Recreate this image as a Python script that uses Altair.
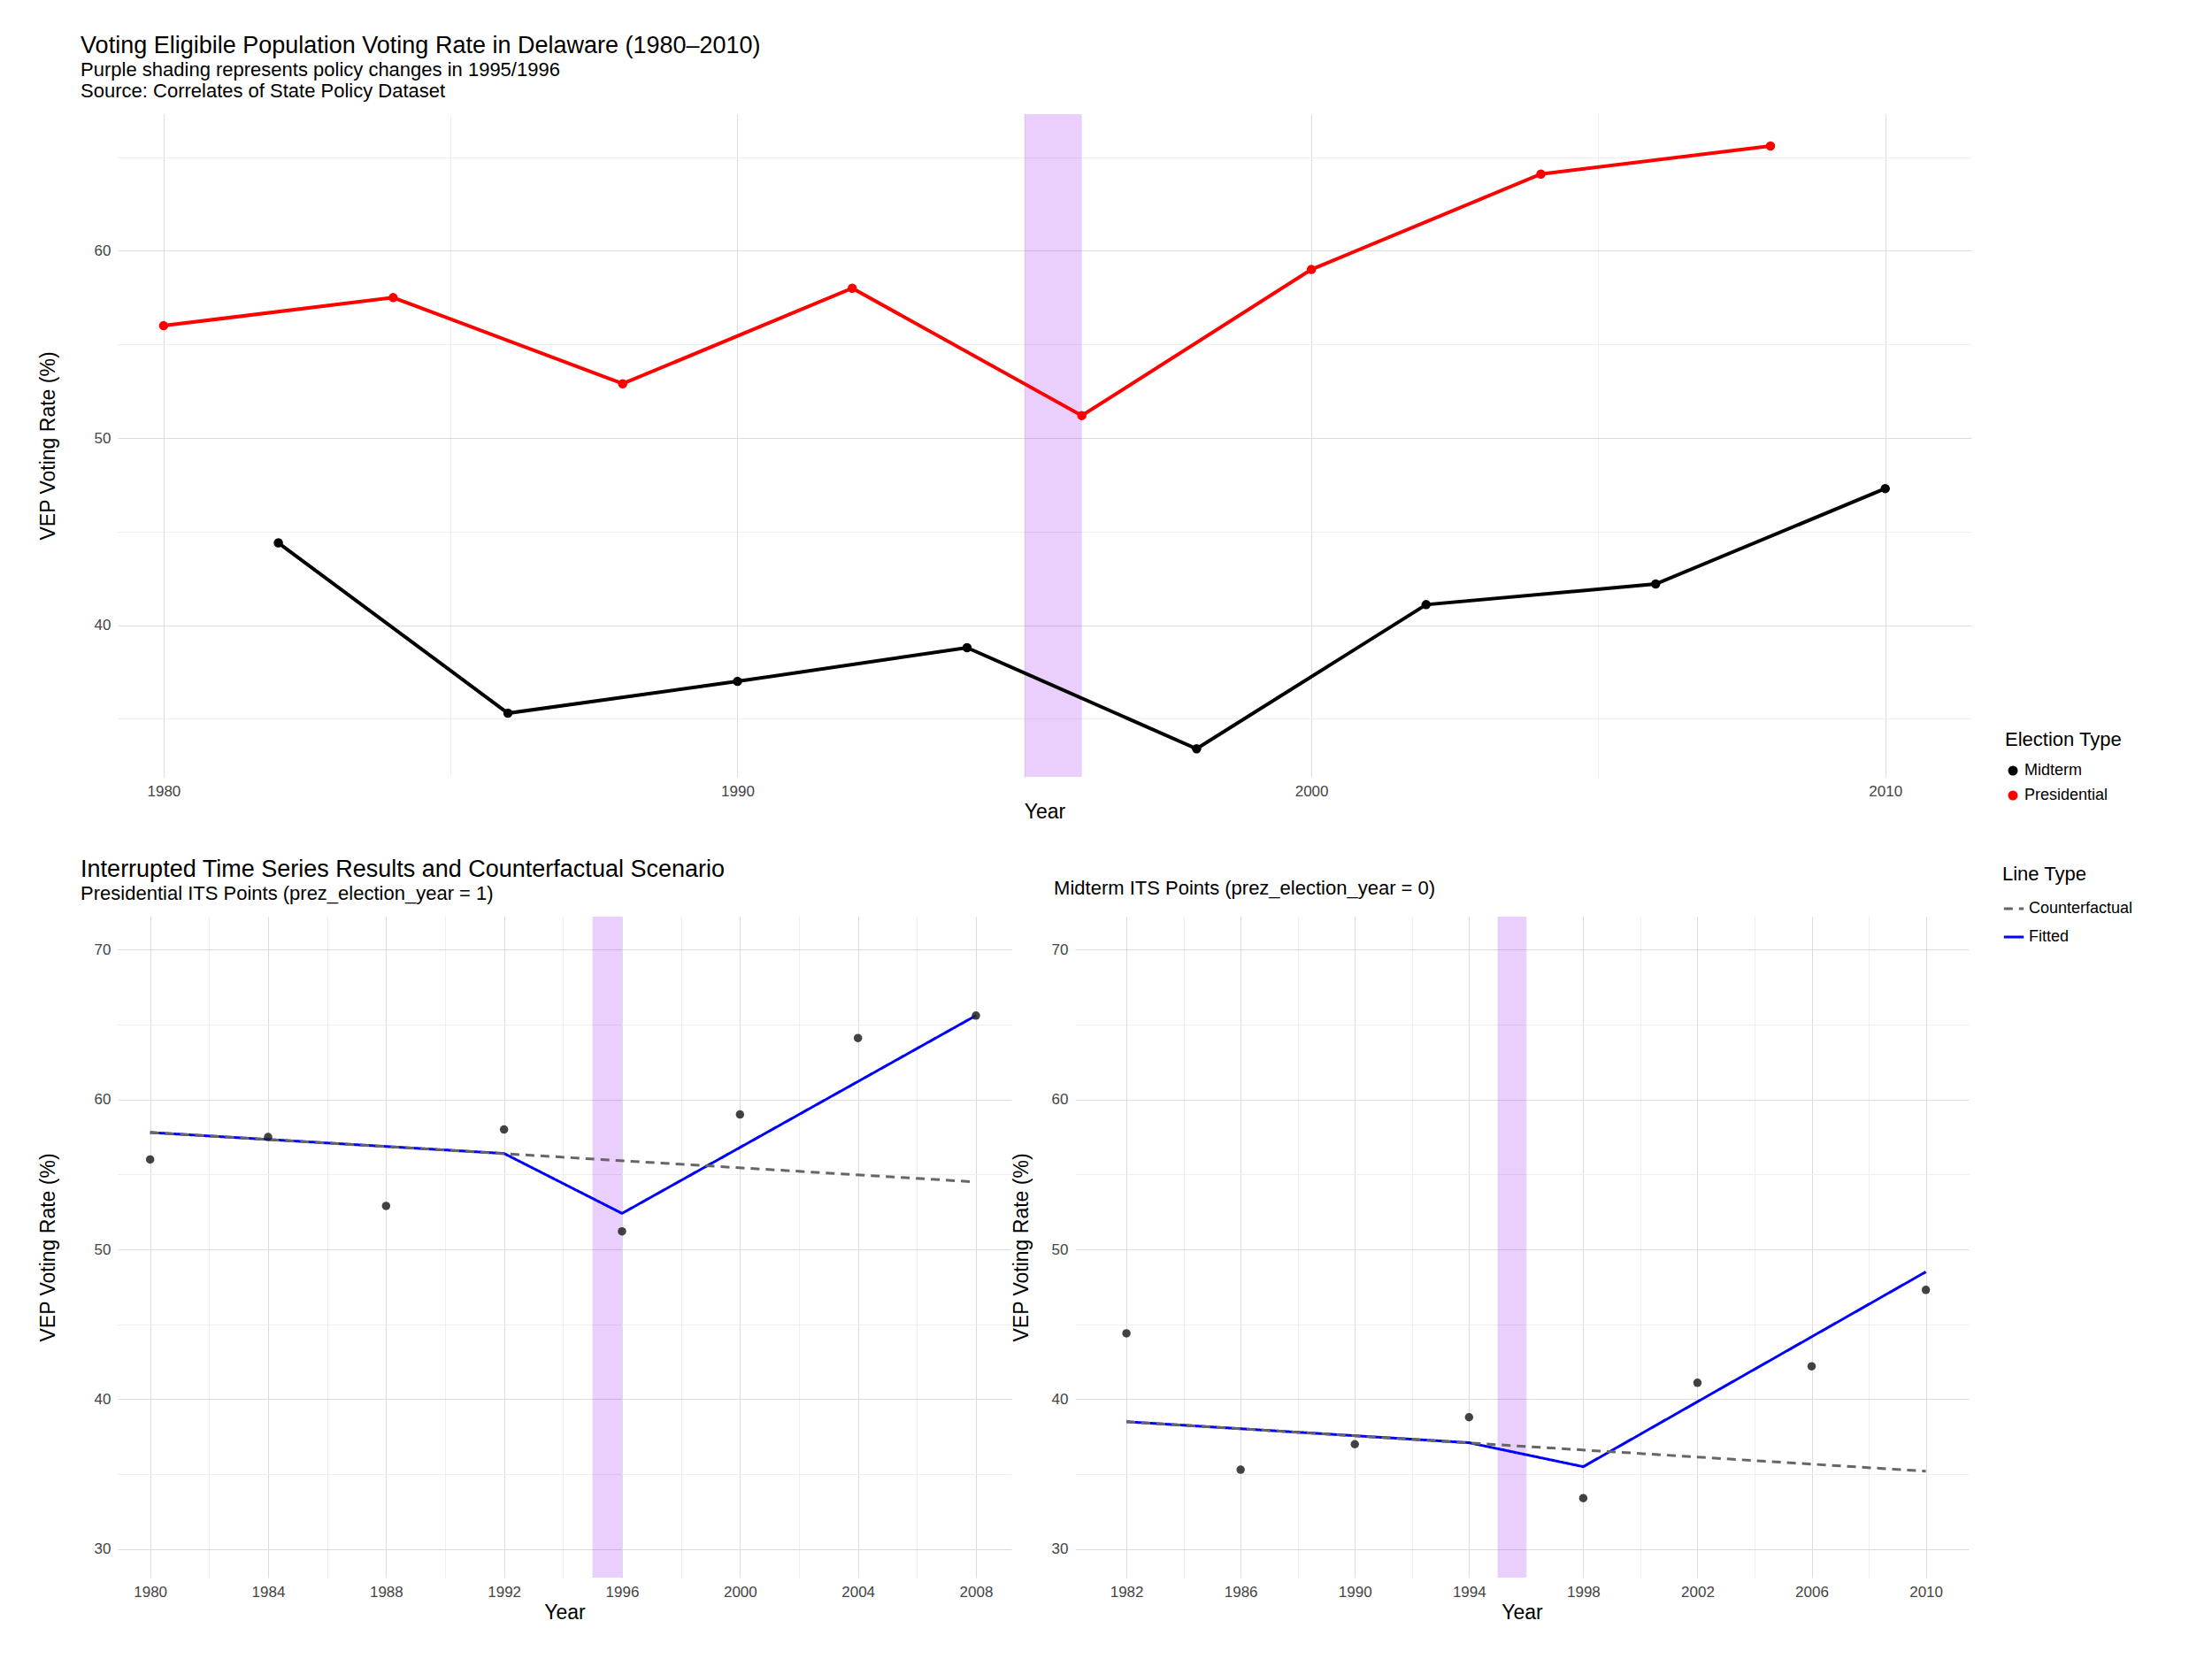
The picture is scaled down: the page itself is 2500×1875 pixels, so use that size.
import altair as alt
import pandas as pd

FONT = "Liberation Sans"

pres_years = [1980, 1984, 1988, 1992, 1996, 2000, 2004, 2008]
pres_rate = [56.0, 57.5, 52.9, 58.0, 51.2, 59.0, 64.1, 65.6]
mid_years = [1982, 1986, 1990, 1994, 1998, 2002, 2006, 2010]
mid_rate = [44.4, 35.3, 37.0, 38.8, 33.4, 41.1, 42.2, 47.3]

pres_fit_years = [1980, 1992, 1996, 2008]
pres_fit = [57.8, 56.4, 52.4, 65.6]
pres_cf_years = [1980, 2008]
pres_cf = [57.8, 54.5]
mid_fit_years = [1982, 1994, 1998, 2010]
mid_fit = [38.5, 37.1, 35.5, 48.5]
mid_cf_years = [1982, 2010]
mid_cf = [38.5, 35.2]

policy = pd.DataFrame({"start": [1995], "end": [1996]})

votes = pd.concat([
    pd.DataFrame({"Year": pres_years, "Rate": pres_rate, "Election Type": "Presidential"}),
    pd.DataFrame({"Year": mid_years, "Rate": mid_rate, "Election Type": "Midterm"}),
])

TOP_W, TOP_H = 2095, 749
BOT_W, BOT_H = 1010, 747


def grid(test):
    return {"condition": {"test": test, "value": "#dcdcdc"}, "value": "#efefef"}


def xaxis(values, test):
    return alt.Axis(values=values, labelExpr=f"({test}) ? datum.label : ''", gridColor=grid(test),
                    ticks=False, domain=False, labelFontSize=17, titleFontSize=23, titleFontWeight="normal",
                    labelColor="#444", titleColor="black", labelPadding=8, format="d")


def yaxis(values, test, pad):
    return alt.Axis(values=values, labelExpr=f"({test}) ? datum.label : ''", gridColor=grid(test),
                    ticks=False, domain=False, labelFontSize=17, titleFontSize=23, titleFontWeight="normal",
                    labelColor="#444", titleColor="black", labelPadding=8, titlePadding=pad)


shade_color = "#a020f0"

# Top chart
tx = alt.X("Year:Q", scale=alt.Scale(domain=[1979.2, 2011.5], nice=False, zero=False),
           axis=xaxis([1980, 1985, 1990, 1995, 2000, 2005, 2010], "datum.value % 10 == 0"), title="Year")
ty = alt.Y("Rate:Q", scale=alt.Scale(domain=[31.9, 67.3], nice=False, zero=False),
           axis=yaxis([35, 40, 45, 50, 55, 60, 65], "datum.value % 10 == 0", 40), title="VEP Voting Rate (%)")
ecolor = alt.Color("Election Type:N", scale=alt.Scale(domain=["Midterm", "Presidential"], range=["black", "red"]),
                   legend=alt.Legend(orient="none", legendX=TOP_W + 38, legendY=697, titleFontSize=22,
                                     titleFontWeight="normal", labelFontSize=18, symbolSize=90, rowPadding=10,
                                     titleColor="black", titlePadding=14))
top_shade = alt.Chart(policy).mark_rect(color=shade_color, opacity=0.22).encode(
    x=alt.X("start:Q", scale=alt.Scale(domain=[1979.2, 2011.5], nice=False, zero=False)), x2="end:Q")
top_line = alt.Chart(votes).mark_line(strokeWidth=4).encode(x=tx, y=ty, color=ecolor)
top_pts = alt.Chart(votes).mark_circle(size=110, opacity=1).encode(x=tx, y=ty, color=ecolor)
top = alt.layer(top_shade, top_line, top_pts).properties(
    width=TOP_W, height=TOP_H,
    title=alt.Title("Voting Eligibile Population Voting Rate in Delaware (1980\u20132010)",
                    subtitle=["Purple shading represents policy changes in 1995/1996",
                              "Source: Correlates of State Policy Dataset"],
                    anchor="start", fontSize=27, fontWeight="normal", subtitleFontSize=22, dx=48,
                    font=FONT, subtitleFont=FONT, subtitleColor="black", offset=14))


def its_panel(years, rate, fy, fv, cy, cv, dom, start, title, legend, ypad):
    pts = pd.DataFrame({"Year": years, "Rate": rate})
    fitted = pd.DataFrame({"Year": fy, "Rate": fv, "Line Type": "Fitted"})
    counter = pd.DataFrame({"Year": cy, "Rate": cv, "Line Type": "Counterfactual"})
    test = f"(datum.value - {start}) % 4 == 0"
    xs = alt.Scale(domain=dom, nice=False, zero=False)
    x = alt.X("Year:Q", scale=xs, axis=xaxis(list(range(start - 2, start + 30, 2)), test), title="Year")
    y = alt.Y("Rate:Q", scale=alt.Scale(domain=[28.1, 72.2], nice=False, zero=False),
              axis=yaxis([30, 35, 40, 45, 50, 55, 60, 65, 70], "datum.value % 10 == 0", ypad),
              title="VEP Voting Rate (%)")
    leg = alt.Legend(orient="none", legendX=BOT_W + 38, legendY=-58, titleFontSize=22, titleFontWeight="normal",
                     labelFontSize=18, symbolType="stroke", symbolStrokeWidth=3, symbolSize=500, rowPadding=10,
                     titleColor="black", titlePadding=14) if legend else None
    lc = alt.Color("Line Type:N", scale=alt.Scale(domain=["Counterfactual", "Fitted"], range=["#666666", "blue"]),
                   legend=leg)
    ld = alt.StrokeDash("Line Type:N", scale=alt.Scale(domain=["Counterfactual", "Fitted"], range=[[10, 7], [1, 0]]),
                        legend=leg)
    shade = alt.Chart(policy).mark_rect(color=shade_color, opacity=0.22).encode(
        x=alt.X("start:Q", scale=xs), x2="end:Q")
    fl = alt.Chart(fitted).mark_line(strokeWidth=3).encode(x=x, y=y, color=lc, strokeDash=ld)
    cl = alt.Chart(counter).mark_line(strokeWidth=3).encode(x=x, y=y, color=lc, strokeDash=ld)
    pt = alt.Chart(pts).mark_circle(size=90, color="#222", opacity=0.85).encode(x=x, y=y)
    return alt.layer(shade, fl, cl, pt).properties(width=BOT_W, height=BOT_H, title=title)


left = its_panel(pres_years, pres_rate, pres_fit_years, pres_fit, pres_cf_years, pres_cf,
                 [1978.9, 2009.2], 1980,
                 alt.Title("Interrupted Time Series Results and Counterfactual Scenario",
                           subtitle="Presidential ITS Points (prez_election_year = 1)", anchor="start",
                           fontSize=27, fontWeight="normal", subtitleFontSize=22, dx=48, font=FONT,
                           subtitleFont=FONT, subtitleColor="black", offset=14), False, 40)
right = its_panel(mid_years, mid_rate, mid_fit_years, mid_fit, mid_cf_years, mid_cf,
                  [1980.2, 2011.5], 1982,
                  alt.Title("Midterm ITS Points (prez_election_year = 0)", anchor="start", fontSize=22,
                            fontWeight="normal", dx=48, dy=52, font=FONT, color="black", offset=14), True, 22)

bottom = alt.hconcat(left, right, spacing=0).resolve_scale(color="independent", strokeDash="independent")

chart = alt.vconcat(top, bottom, spacing=40).resolve_scale(
    color="independent", strokeDash="independent", x="independent", y="independent"
).properties(padding={"left": 35, "top": 30, "right": 5, "bottom": 5}
).configure(font=FONT).configure_view(stroke=None).configure_axis(labelFont=FONT, titleFont=FONT).configure_legend(
    labelFont=FONT, titleFont=FONT)

chart.save("out.html", embed_options={"renderer": "svg", "actions": False})
